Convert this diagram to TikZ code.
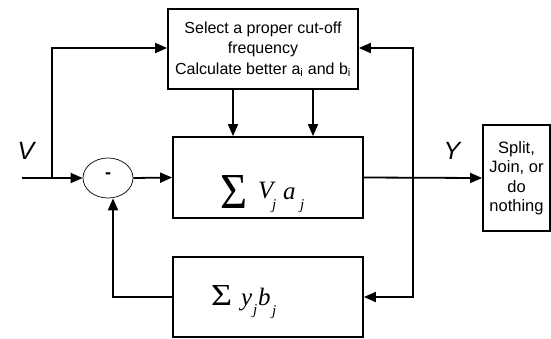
\documentclass[tikz,border=0pt]{standalone}
\usepackage{fontspec}
\usepackage{graphicx}
\setmainfont{Liberation Sans}
\newfontfamily\serifm{Liberation Serif}
\usetikzlibrary{arrows.meta,shapes.geometric}
\begin{document}
\begin{tikzpicture}[x=1pt,y=-1pt,
  blk/.style={draw,line width=1.8pt,inner sep=0pt},
  conn/.style={line width=1.8pt,-{Triangle[length=12pt,width=10pt]}},
  wire/.style={line width=1.8pt},
  lbl/.style={font=\fontsize{25}{25}\selectfont\itshape},
  frm/.style={anchor=base west,inner sep=0pt,font=\serifm},
  big/.style={frm,font=\serifm\itshape\fontsize{25}{25}\selectfont},
  sml/.style={frm,font=\serifm\itshape\fontsize{15}{15}\selectfont}]
\useasboundingbox (0,0) rectangle (551,338);
% boxes
\node[blk,minimum width=190pt,minimum height=80pt,align=center,
  font=\fontsize{16}{20.5}\selectfont] (sel) at (263,49)
  {Select a proper cut-off\\frequency\\Calculate better a\textsubscript{i} and b\textsubscript{i}};
\node[blk,minimum width=190pt,minimum height=81pt] (main) at (268,177.5) {};
\node[frm] (s1) at (220,208) {\resizebox{27pt}{33pt}{Σ}};
\node[big] (v1) at (258,198) {V};
\node[sml] (j1) at (272,209) {j};
\node[big] (a1) at (283,199.5) {a};
\node[sml] (j2) at (300,209.5) {j};
\node[blk,minimum width=190pt,minimum height=80pt] (fb) at (268,297) {};
\node[frm] (s2) at (211,305) {\resizebox{21pt}{20pt}{Σ}};
\node[big] (y1) at (241,305) {y};
\node[sml] (j3) at (253,314) {j};
\node[big] (b1) at (258,305) {b};
\node[sml] (j4) at (272,315) {j};
\node[blk,minimum width=67pt,minimum height=106pt,align=center,
  font=\fontsize{16.5}{19.5}\selectfont] (sp) at (516.5,178)
  {Split,\\Join, or\\do\\nothing};
\node[draw,ellipse,line width=0.7pt,minimum width=50pt,minimum height=40pt,inner sep=0pt] (sub) at (108,178) {};
\node[font=\bfseries\fontsize{18}{18}\selectfont] (minus) at (108,176) {-};
% labels
\node[lbl] (V) at (26,151) {V};
\node[lbl] (Y) at (452,151) {Y};
% coordinates
\coordinate (in) at (22,178);
\coordinate (br) at (52,178);
\coordinate (tl) at (52,48);
\coordinate (tr) at (413,48);
\coordinate (yb) at (413,297);
\coordinate (fl) at (113,297);
% connectors
\draw[wire] (in) -- (br);
\draw[conn] (br) -- (sub.west);
\draw[conn] (br) -- (tl) -- (tl -| sel.west);
\draw[conn] (sub.east) -- (main.west);
\draw[conn] (sel.south -| 233,0) -- (main.north -| 233,0);
\draw[conn] (sel.south -| 313,0) -- (main.north -| 313,0);
\draw[conn] (main.east) -- (sp.west);
\draw[conn] (yb) -- (tr) -- (tr -| sel.east);
\draw[conn] (tr) -- (yb) -- (fb.east);
\draw[conn] (fb.west) -- (fl) -- (fl |- sub.south);
\end{tikzpicture}
\end{document}
